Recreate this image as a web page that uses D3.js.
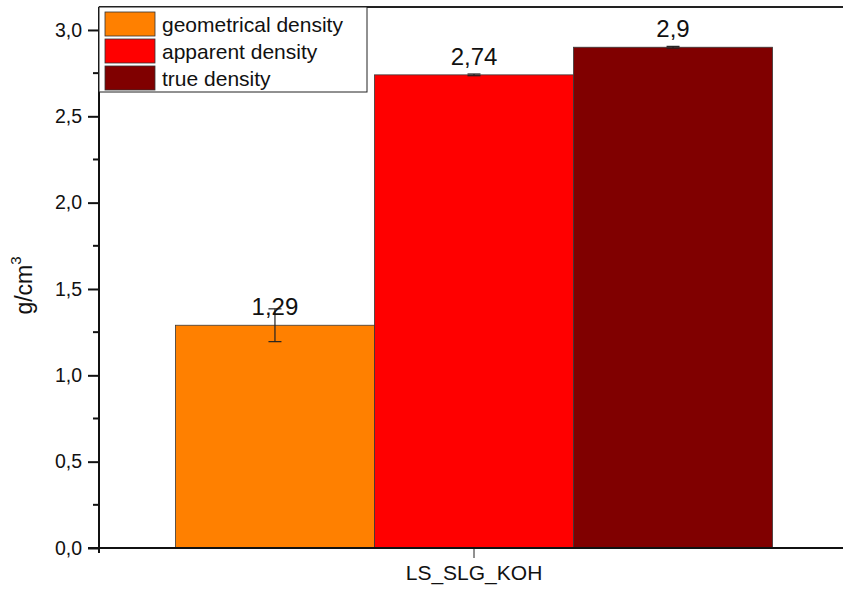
<!DOCTYPE html>
<html>
<head>
<meta charset="utf-8">
<script src="https://d3js.org/d3.v7.min.js"></script>
<style>
  body { margin: 0; background: #fff; }
  svg { font-family: 'Liberation Sans', Arial, sans-serif; }
</style>
</head>
<body>
<div id="vis"></div>
<script>
// data
const categories = ['LS_SLG_KOH'];
const series = ['geometrical density', 'apparent density', 'true density'];
const values = [1.29, 2.74, 2.9];
const errors = [0.095, 0.005, 0.005];
const valueLabels = ['1,29', '2,74', '2,9'];
const colors = ['#FF8000', '#FF0000', '#800000'];
const yTicks = [0, 0.5, 1.0, 1.5, 2.0, 2.5, 3.0];

const width = 843, height = 590;
const margin = {top: 7, left: 99, bottom: 42};
const plotRight = 849;

let svg = d3.select('#vis').append('svg').attr('width', width).attr('height', height);

let y = d3.scaleLinear().domain([0, 3.133]).range([height - margin.bottom, margin.top]);
let x0 = d3.scaleBand().domain(categories).range([margin.left, plotRight]).paddingInner(0).paddingOuter(0.128);
let x1 = d3.scaleBand().domain(series).range([0, x0.bandwidth()]);

let fmt = d => d3.format('.1f')(d).replace('.', ',');

// bars
let g = svg.append('g');
categories.forEach(cat => {
    g.selectAll('.bar')
        .data(series)
        .join('rect')
        .attr('class', 'bar')
        .attr('x', s => x0(cat) + x1(s))
        .attr('y', (s, i) => y(values[i]))
        .attr('width', x1.bandwidth())
        .attr('height', (s, i) => y(0) - y(values[i]))
        .attr('fill', (s, i) => colors[i])
        .attr('stroke', '#3a3a3a')
        .attr('stroke-width', 0.8);

    // error bars + value labels
    series.forEach((s, i) => {
        let cx = x0(cat) + x1(s) + x1.bandwidth() / 2;
        let eg = g.append('g').attr('stroke', '#222').attr('stroke-width', 1.2);
        eg.append('line').attr('x1', cx).attr('x2', cx)
            .attr('y1', y(values[i] + errors[i])).attr('y2', y(values[i] - errors[i]));
        [values[i] + errors[i], values[i] - errors[i]].forEach(v => {
            eg.append('line').attr('x1', cx - 6.5).attr('x2', cx + 6.5).attr('y1', y(v)).attr('y2', y(v));
        });
        g.append('text')
            .attr('x', cx)
            .attr('y', y(values[i]) - 10)
            .attr('text-anchor', 'middle')
            .attr('font-size', 24)
            .attr('fill', '#111')
            .text(valueLabels[i]);
    });
});

// frame: top line
svg.append('line')
    .attr('x1', margin.left).attr('x2', plotRight)
    .attr('y1', margin.top).attr('y2', margin.top)
    .attr('stroke', '#222').attr('stroke-width', 2);

// y axis
let yAxis = d3.axisLeft(y).tickValues(yTicks).tickFormat(fmt).tickSize(11).tickPadding(6);
let ya = svg.append('g').attr('transform', `translate(${margin.left},0)`).call(yAxis);
ya.select('.domain').remove();
ya.append('line').attr('x1', 0).attr('x2', 0).attr('y1', margin.top).attr('y2', y(0) + 5)
    .attr('stroke', '#111').attr('stroke-width', 2);
ya.selectAll('.tick line').attr('stroke', '#111').attr('stroke-width', 2);
ya.selectAll('.tick text').attr('font-size', 19.5).attr('fill', '#111').attr('font-family', 'Liberation Sans, Arial, sans-serif');
let minor = d3.range(0.25, 3.1, 0.5);
ya.selectAll('.minor').data(minor).join('line')
    .attr('class', 'minor')
    .attr('x1', -6).attr('x2', 0)
    .attr('y1', d => y(d)).attr('y2', d => y(d))
    .attr('stroke', '#111').attr('stroke-width', 2);

// x axis
let xAxis = d3.axisBottom(x0).tickSize(10).tickPadding(7);
let xa = svg.append('g').attr('transform', `translate(0,${y(0)})`).call(xAxis);
xa.select('.domain').remove();
xa.append('line').attr('x1', margin.left - 11).attr('x2', plotRight).attr('y1', 0).attr('y2', 0)
    .attr('stroke', '#111').attr('stroke-width', 2);
xa.selectAll('.tick line').attr('stroke', '#222').attr('stroke-width', 1);
xa.selectAll('.tick text').attr('font-size', 21).attr('fill', '#111').attr('font-family', 'Liberation Sans, Arial, sans-serif');

// y label
let yl = svg.append('text')
    .attr('transform', `translate(32,${(margin.top + y(0)) / 2 + 8}) rotate(-90)`)
    .attr('text-anchor', 'middle')
    .attr('font-size', 23)
    .attr('fill', '#111');
yl.append('tspan').text('g/cm');
yl.append('tspan').attr('font-size', 15).attr('dy', -11).text('3');

// legend
let lg = svg.append('g').attr('transform', `translate(${margin.left},${margin.top})`);
lg.append('rect').attr('x', 0).attr('y', 0).attr('width', 268).attr('height', 85)
    .attr('fill', '#fff').attr('stroke', '#222').attr('stroke-width', 1);
series.forEach((s, i) => {
    lg.append('rect').attr('x', 6).attr('y', 5 + i * 27).attr('width', 50).attr('height', 24)
        .attr('fill', colors[i]).attr('stroke', '#333').attr('stroke-width', 0.8);
    lg.append('text').attr('x', 63).attr('y', 25 + i * 27)
        .attr('font-size', 21).attr('fill', '#111').text(s);
});
</script>
</body>
</html>
